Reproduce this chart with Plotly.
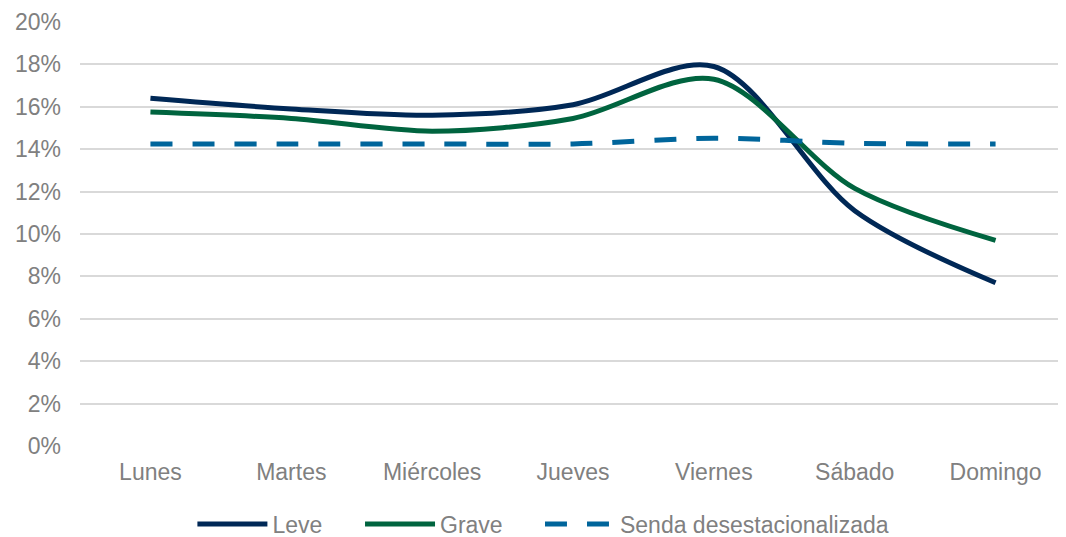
import plotly.graph_objects as go

dias = ["Lunes", "Martes", "Miércoles", "Jueves", "Viernes", "Sábado", "Domingo"]
leve = [0.164, 0.159, 0.156, 0.161, 0.179, 0.111, 0.077]
grave = [0.1575, 0.1545, 0.1485, 0.1545, 0.1730, 0.1215, 0.0970]
senda = [0.1425, 0.1425, 0.1425, 0.1425, 0.1452, 0.1428, 0.1425]

fig = go.Figure()
fig.add_trace(go.Scatter(x=dias, y=leve, name="Leve", mode="lines", legend="legend",
                         line=dict(color="#002856", width=5, shape="spline", smoothing=0.9)))
fig.add_trace(go.Scatter(x=dias, y=grave, name="Grave", mode="lines", legend="legend2",
                         line=dict(color="#00643F", width=5, shape="spline", smoothing=0.9)))
fig.add_trace(go.Scatter(x=dias, y=senda, name="Senda desestacionalizada", mode="lines",
                         legend="legend3",
                         line=dict(color="#00659B", width=5, shape="spline", smoothing=0.9,
                                   dash="22px,20px")))

leg = dict(orientation="h", xanchor="left", y=-0.184, yanchor="middle",
           font=dict(size=23, color="#808080"), itemwidth=70, bgcolor="rgba(0,0,0,0)")

fig.update_layout(
    width=1058, height=529,
    margin=dict(l=72, r=0, t=14, b=91, autoexpand=False),
    paper_bgcolor="white", plot_bgcolor="white",
    font=dict(family="Liberation Sans, Arial, sans-serif", size=23, color="#808080"),
    showlegend=True,
    legend=dict(leg, x=0.114),
    legend2=dict(leg, x=0.284),
    legend3=dict(leg, x=0.4665),
)
fig.update_xaxes(range=[-0.5, 6.5], showgrid=False, showline=False, ticks="",
                 automargin=False, ticklabelstandoff=10,
                 tickfont=dict(size=23, color="#808080"))
fig.update_yaxes(range=[0, 0.2], dtick=0.02, tickformat=".0%", showgrid=True,
                 gridcolor="#D9D9D9", gridwidth=1.5, zeroline=False, ticks="",
                 automargin=False, ticklabelstandoff=18,
                 tickfont=dict(size=23, color="#808080"))

fig.write_html("out.html")
